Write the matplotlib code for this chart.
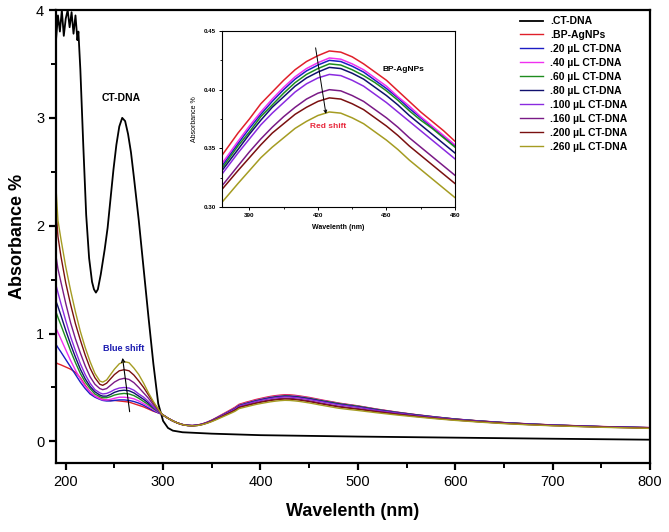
import matplotlib
matplotlib.use('Agg')
import matplotlib.pyplot as plt
from matplotlib.ticker import MultipleLocator

plt.rcParams['font.family'] = ['Liberation Sans', 'DejaVu Sans']

# CT-DNA alone
ct_wl = [190, 192, 194, 196, 198, 200, 202, 204, 206, 208, 210, 212, 213,
         215, 218, 221, 224, 227, 229, 231, 233, 236, 240,
         243, 246, 249, 252, 255, 258, 261, 264, 267, 270,
         275, 280, 285, 290, 295, 300, 305, 310, 320, 350,
         400, 500, 600, 700, 800]
ct_abs = [3.72, 3.95, 3.80, 4.00, 3.76, 3.92, 4.00, 3.84, 3.98, 3.78, 3.95, 3.72, 3.80,
          3.45, 2.75, 2.10, 1.70, 1.48, 1.41, 1.38, 1.41, 1.55, 1.78,
          1.98, 2.25, 2.52, 2.75, 2.92, 3.00, 2.97, 2.85, 2.68, 2.45,
          2.05, 1.60, 1.15, 0.72, 0.35, 0.19, 0.125, 0.10, 0.085, 0.072,
          0.058, 0.045, 0.035, 0.025, 0.016]

# BP-AgNPs titration, common wavelength grid
wl = [190, 192, 195, 200, 205, 210, 215, 220, 225, 230, 235, 238, 242, 246, 250,
      255, 260, 265, 270, 275, 280, 285, 290, 295, 299,
      305, 310, 315, 320, 325, 330, 335, 340, 345, 350, 355, 360, 365, 370, 374,
      378, 385, 390, 395, 400, 405, 410, 415, 420, 425,
      430, 435, 440, 445, 450, 455, 460, 465, 470, 475, 480,
      490, 500, 520, 540, 560, 580, 600, 625, 650, 675, 700, 750, 800]

abs_np = [0.73, 0.72, 0.71, 0.69, 0.67, 0.64, 0.59, 0.52, 0.46, 0.42, 0.40, 0.39, 0.385, 0.38, 0.38,
          0.375, 0.37, 0.365, 0.35, 0.335, 0.32, 0.30, 0.28, 0.265, 0.25,
          0.215, 0.19, 0.17, 0.157, 0.150, 0.148, 0.152, 0.162, 0.178, 0.198, 0.222, 0.247, 0.272, 0.297, 0.318,
          0.344, 0.363, 0.375, 0.388, 0.398, 0.408, 0.417, 0.424, 0.429, 0.433,
          0.432, 0.428, 0.422, 0.415, 0.408, 0.399, 0.390, 0.381, 0.373, 0.365, 0.356,
          0.343, 0.330, 0.299, 0.272, 0.248, 0.227, 0.208, 0.190, 0.175, 0.163, 0.153, 0.138, 0.128]
abs_20 = [0.90, 0.87, 0.83, 0.76, 0.69, 0.62, 0.55, 0.49, 0.44, 0.41, 0.39, 0.38, 0.375, 0.375, 0.38,
          0.385, 0.385, 0.38, 0.37, 0.355, 0.335, 0.31, 0.285, 0.265, 0.25,
          0.215, 0.19, 0.17, 0.156, 0.149, 0.147, 0.151, 0.160, 0.176, 0.195, 0.218, 0.242, 0.265, 0.289, 0.309,
          0.335, 0.354, 0.367, 0.379, 0.390, 0.400, 0.409, 0.416, 0.421, 0.425,
          0.424, 0.420, 0.415, 0.408, 0.401, 0.393, 0.384, 0.376, 0.368, 0.360, 0.352,
          0.339, 0.326, 0.296, 0.270, 0.246, 0.226, 0.207, 0.189, 0.174, 0.162, 0.152, 0.137, 0.127]
abs_40 = [1.05, 1.01, 0.95, 0.85, 0.75, 0.66, 0.58, 0.51, 0.46, 0.42, 0.395, 0.385, 0.385, 0.39, 0.40,
          0.41, 0.41, 0.405, 0.395, 0.375, 0.35, 0.325, 0.295, 0.27, 0.25,
          0.215, 0.19, 0.17, 0.156, 0.149, 0.147, 0.151, 0.161, 0.176, 0.195, 0.218, 0.243, 0.267, 0.291, 0.311,
          0.337, 0.356, 0.369, 0.381, 0.392, 0.402, 0.411, 0.418, 0.423, 0.427,
          0.426, 0.422, 0.417, 0.410, 0.403, 0.394, 0.386, 0.377, 0.369, 0.361, 0.353,
          0.340, 0.327, 0.297, 0.270, 0.247, 0.226, 0.207, 0.189, 0.174, 0.162, 0.152, 0.138, 0.128]
abs_60 = [1.20, 1.15, 1.08, 0.96, 0.84, 0.73, 0.63, 0.55, 0.49, 0.44, 0.415, 0.405, 0.405, 0.415, 0.43,
          0.44, 0.445, 0.44, 0.425, 0.40, 0.37, 0.34, 0.305, 0.275, 0.25,
          0.215, 0.19, 0.17, 0.156, 0.149, 0.146, 0.150, 0.159, 0.174, 0.193, 0.216, 0.239, 0.263, 0.287, 0.306,
          0.333, 0.352, 0.364, 0.377, 0.387, 0.397, 0.406, 0.413, 0.418, 0.422,
          0.421, 0.417, 0.412, 0.406, 0.399, 0.391, 0.382, 0.374, 0.367, 0.359, 0.351,
          0.338, 0.326, 0.295, 0.269, 0.246, 0.225, 0.207, 0.189, 0.174, 0.162, 0.152, 0.137, 0.127]
abs_80 = [1.30, 1.25, 1.17, 1.03, 0.90, 0.78, 0.67, 0.58, 0.51, 0.46, 0.43, 0.42, 0.42, 0.435, 0.455,
          0.47, 0.475, 0.47, 0.45, 0.42, 0.39, 0.355, 0.315, 0.28, 0.25,
          0.215, 0.19, 0.17, 0.156, 0.149, 0.146, 0.150, 0.159, 0.174, 0.193, 0.215, 0.238, 0.262, 0.285, 0.305,
          0.331, 0.349, 0.362, 0.374, 0.385, 0.394, 0.403, 0.410, 0.415, 0.419,
          0.418, 0.414, 0.409, 0.402, 0.395, 0.387, 0.378, 0.370, 0.362, 0.354, 0.346,
          0.333, 0.321, 0.292, 0.266, 0.244, 0.223, 0.205, 0.188, 0.173, 0.161, 0.151, 0.137, 0.127]
abs_100 = [1.45, 1.38, 1.28, 1.12, 0.97, 0.84, 0.72, 0.62, 0.54, 0.48, 0.45, 0.44, 0.445, 0.46, 0.48,
           0.495, 0.50, 0.495, 0.475, 0.44, 0.41, 0.37, 0.32, 0.28, 0.25,
           0.215, 0.19, 0.17, 0.156, 0.148, 0.146, 0.150, 0.159, 0.174, 0.192, 0.214, 0.237, 0.260, 0.283, 0.302,
           0.328, 0.346, 0.358, 0.370, 0.380, 0.389, 0.398, 0.405, 0.410, 0.413,
           0.412, 0.408, 0.403, 0.396, 0.389, 0.381, 0.373, 0.365, 0.357, 0.349, 0.341,
           0.329, 0.317, 0.288, 0.264, 0.241, 0.222, 0.204, 0.187, 0.172, 0.160, 0.151, 0.136, 0.126]
abs_160 = [1.72, 1.60, 1.48, 1.28, 1.10, 0.95, 0.82, 0.70, 0.60, 0.53, 0.49, 0.48, 0.49, 0.52, 0.55,
           0.575, 0.585, 0.575, 0.545, 0.50, 0.45, 0.40, 0.34, 0.29, 0.25,
           0.215, 0.19, 0.17, 0.155, 0.148, 0.145, 0.148, 0.157, 0.171, 0.188, 0.209, 0.231, 0.253, 0.274, 0.293,
           0.318, 0.335, 0.347, 0.358, 0.368, 0.377, 0.385, 0.392, 0.397, 0.400,
           0.399, 0.395, 0.390, 0.383, 0.376, 0.368, 0.359, 0.351, 0.343, 0.335, 0.327,
           0.315, 0.304, 0.279, 0.256, 0.235, 0.217, 0.200, 0.183, 0.169, 0.158, 0.148, 0.134, 0.124]
abs_200 = [2.15, 1.90, 1.72, 1.47, 1.27, 1.09, 0.94, 0.80, 0.68, 0.59, 0.53, 0.52, 0.54, 0.58, 0.62,
           0.655, 0.665, 0.655, 0.615, 0.56, 0.50, 0.43, 0.36, 0.30, 0.25,
           0.215, 0.19, 0.17, 0.155, 0.147, 0.145, 0.148, 0.157, 0.170, 0.188, 0.208, 0.229, 0.251, 0.272, 0.290,
           0.315, 0.331, 0.342, 0.353, 0.363, 0.371, 0.379, 0.385, 0.390, 0.393,
           0.392, 0.388, 0.383, 0.376, 0.369, 0.361, 0.352, 0.344, 0.336, 0.328, 0.320,
           0.309, 0.298, 0.274, 0.252, 0.232, 0.214, 0.198, 0.182, 0.168, 0.156, 0.147, 0.133, 0.123]
abs_260 = [2.35, 2.05, 1.88, 1.62, 1.40, 1.20, 1.02, 0.87, 0.74, 0.63, 0.56, 0.55, 0.57, 0.62, 0.67,
           0.72, 0.74, 0.73, 0.68, 0.62, 0.54, 0.45, 0.37, 0.30, 0.25,
           0.215, 0.19, 0.17, 0.155, 0.147, 0.144, 0.147, 0.155, 0.168, 0.184, 0.203, 0.223, 0.243, 0.263, 0.280,
           0.304, 0.320, 0.331, 0.342, 0.351, 0.359, 0.367, 0.373, 0.378, 0.381,
           0.380, 0.376, 0.371, 0.364, 0.357, 0.349, 0.340, 0.332, 0.324, 0.316, 0.308,
           0.297, 0.287, 0.265, 0.245, 0.227, 0.210, 0.195, 0.179, 0.165, 0.154, 0.145, 0.131, 0.121]

labels = ['.BP-AgNPs', '.20 \u00b5L CT-DNA', '.40 \u00b5L CT-DNA', '.60 \u00b5L CT-DNA',
          '.80 \u00b5L CT-DNA', '.100 \u00b5L CT-DNA', '.160 \u00b5L CT-DNA',
          '.200 \u00b5L CT-DNA', '.260 \u00b5L CT-DNA']
series = [abs_np, abs_20, abs_40, abs_60, abs_80, abs_100, abs_160, abs_200, abs_260]
colors = ['#e0202a', '#1c1cc4', '#f030f0', '#1e8c1e', '#10106e',
          '#8a2ae0', '#7a1a86', '#7a1010', '#a59c22']

fig = plt.figure(figsize=(6.69, 5.32), dpi=100)
ax = fig.add_axes([0.0837, 0.1297, 0.8879, 0.8515])

ax.plot(ct_wl, ct_abs, color='black', lw=1.3, label='.CT-DNA')
for y, c, lab in zip(series, colors, labels):
    ax.plot(wl, y, color=c, lw=1.0, label=lab)

ax.set_xlim(190, 800)
ax.set_ylim(-0.2, 4)
ax.xaxis.set_major_locator(MultipleLocator(100))
ax.xaxis.set_minor_locator(MultipleLocator(50))
ax.yaxis.set_major_locator(MultipleLocator(1))
ax.yaxis.set_minor_locator(MultipleLocator(0.5))
for s in ax.spines.values():
    s.set_linewidth(1.6)
ax.tick_params(which='major', direction='out', length=5, width=1.6, labelsize=10.5)
ax.tick_params(which='minor', direction='out', length=3.5, width=1.4)
ax.set_xlabel('Wavelenth (nm)', fontsize=13, fontweight='bold', labelpad=10)
ax.set_ylabel('Absorbance %', fontsize=13, fontweight='bold', labelpad=7)

ax.text(257, 3.14, 'CT-DNA', fontsize=7.5, fontweight='bold', ha='center', va='bottom')
ax.text(260, 0.86, 'Blue shift', fontsize=6.5, fontweight='bold', color='#1a1ab0',
        ha='center', va='center')
ax.annotate('', xy=(258, 0.80), xytext=(266, 0.25),
            arrowprops=dict(arrowstyle='->', color='black', lw=0.8, mutation_scale=6))

leg = ax.legend(loc='upper left', bbox_to_anchor=(516 / 669, 1 - 12 / 532),
                bbox_transform=fig.transFigure, frameon=False, borderaxespad=0,
                prop={'weight': 'bold', 'size': 7.5}, handlelength=2.2,
                handletextpad=0.7, labelspacing=0.38)

# inset
ins = fig.add_axes([0.3318, 0.6109, 0.3483, 0.3308])
for y, c in zip(series, colors):
    ins.plot(wl, y, color=c, lw=1.1)
ins.set_xlim(378, 480)
ins.set_ylim(0.30, 0.45)
ins.set_xticks([390, 420, 450, 480])
ins.xaxis.set_minor_locator(MultipleLocator(15))
ins.set_yticks([0.30, 0.35, 0.40, 0.45])
ins.set_yticklabels(['0.30', '0.35', '0.40', '0.45'])
ins.yaxis.set_minor_locator(MultipleLocator(0.025))
for s in ins.spines.values():
    s.set_linewidth(0.8)
ins.tick_params(which='major', direction='out', length=2.5, width=0.7, labelsize=4.5, pad=2)
ins.tick_params(which='minor', direction='out', length=1.5, width=0.6)
for t in ins.get_xticklabels() + ins.get_yticklabels():
    t.set_fontweight('bold')
ins.set_xlabel('Wavelenth (nm)', fontsize=5, fontweight='bold', labelpad=4)
ins.set_ylabel('Absorbance %', fontsize=5, labelpad=4)
ins.text(457.5, 0.417, 'BP-AgNPs', fontsize=6, fontweight='bold', ha='center', va='center')
ins.text(424.5, 0.369, 'Red shift', fontsize=6, fontweight='bold', color='#e8283c',
         ha='center', va='center')
ins.annotate('', xy=(423.7, 0.377), xytext=(418.8, 0.438),
             arrowprops=dict(arrowstyle='->', color='black', lw=0.7, mutation_scale=5))

fig.savefig('out.png', dpi=100)
